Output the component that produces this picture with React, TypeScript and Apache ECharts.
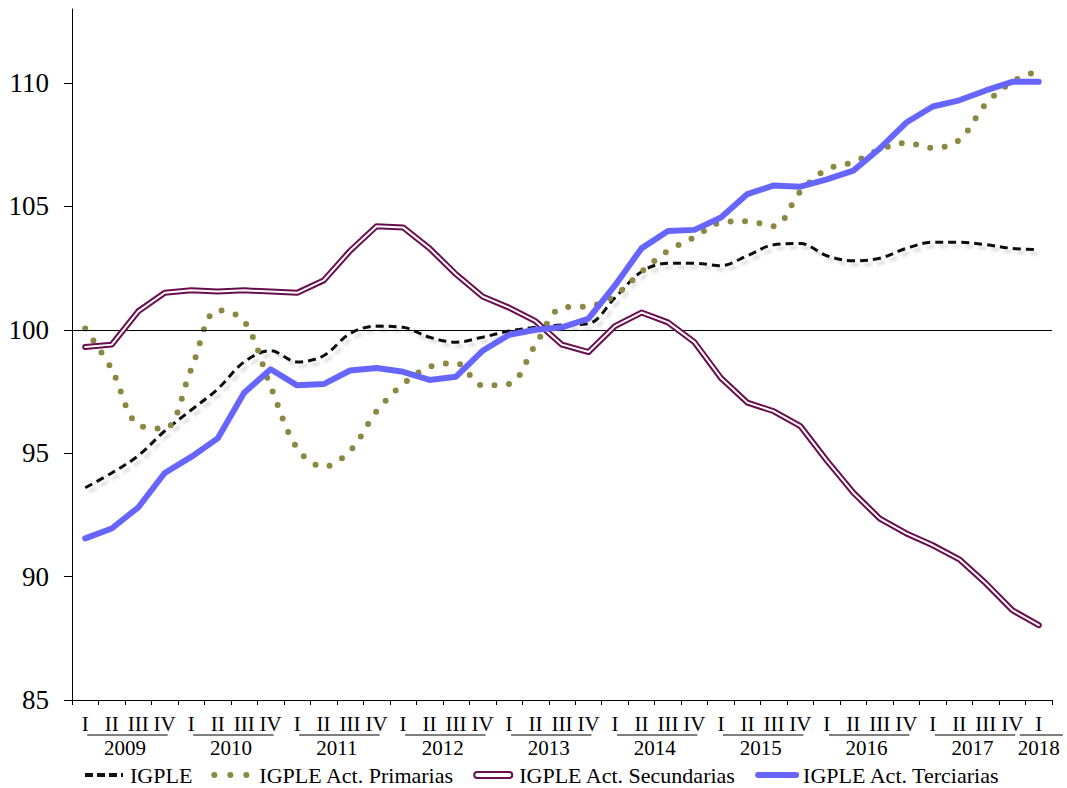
import React, { useEffect, useRef } from "react";
import * as echarts from "echarts";

const years = ["2009", "2010", "2011", "2012", "2013", "2014", "2015", "2016", "2017", "2018"];
const quartersPerYear = [4, 4, 4, 4, 4, 4, 4, 4, 4, 1];
const quarterNames = ["I", "II", "III", "IV"];

const igple = [
  93.6, 94.2, 94.9, 95.9, 96.75, 97.6, 98.7, 99.15, 98.7, 98.95,
  99.85, 100.15, 100.1, 99.7, 99.5, 99.7, 99.95, 100.1, 100.2, 100.25,
  101.3, 102.35, 102.7, 102.7, 102.6, 103.0, 103.45, 103.5, 103.0, 102.8,
  102.9, 103.3, 103.55, 103.55, 103.45, 103.3, 103.25,
];
const primarias = [
  100.05, 98.4, 96.15, 96.0, 98.4, 100.8, 100.35, 97.7, 95.2, 94.45,
  95.1, 96.7, 97.8, 98.5, 98.65, 97.75, 97.8, 99.4, 100.9, 100.95,
  101.4, 102.35, 103.2, 103.75, 104.35, 104.4, 104.2, 105.6, 106.5, 106.8,
  107.3, 107.57, 107.37, 107.7, 109.15, 110.05, 110.5,
];
const secundarias = [
  99.3, 99.4, 100.75, 101.5, 101.6, 101.55, 101.6, 101.55, 101.5, 102.0,
  103.2, 104.2, 104.15, 103.3, 102.25, 101.35, 100.9, 100.35, 99.4, 99.1,
  100.15, 100.7, 100.3, 99.5, 98.05, 97.05, 96.7, 96.1, 94.7, 93.4,
  92.35, 91.75, 91.27, 90.7, 89.73, 88.64, 88.03,
];
const terciarias = [
  91.55, 91.95, 92.8, 94.2, 94.85, 95.6, 97.45, 98.4, 97.75, 97.8,
  98.35, 98.45, 98.3, 97.97, 98.1, 99.15, 99.8, 100.0, 100.1, 100.45,
  101.8, 103.3, 104.0, 104.05, 104.55, 105.5, 105.85, 105.8, 106.1, 106.45,
  107.35, 108.4, 109.05, 109.3, 109.7, 110.05, 110.05,
];
const yTicks = [85, 90, 95, 100, 105, 110];

const categories: string[] = [];
years.forEach((y, k) => {
  for (let q = 0; q < quartersPerYear[k]; q++) categories.push(y + "|" + quarterNames[q]);
});

const FONT = "Liberation Serif";
const PURPLE = "#6A0D4F";
const OLIVE = "#8C8841";
const BLUE = "#6666FF";

export default function App() {
  const ref = useRef<HTMLDivElement>(null);
  useEffect(() => {
    const chart = echarts.init(ref.current!, undefined, { renderer: "svg" });
    chart.setOption({
      animation: false,
      grid: { left: 72, right: 15, top: 9, bottom: 88, containLabel: false },
      xAxis: {
        type: "category",
        data: categories,
        boundaryGap: true,
        axisLine: { lineStyle: { color: "#000", width: 1 } },
        axisTick: { show: true, length: 5, inside: false, lineStyle: { color: "#000" } },
        axisLabel: {
          interval: 0,
          margin: 13,
          fontFamily: FONT,
          fontSize: 21,
          color: "#000",
          formatter: (v: string) => v.split("|")[1],
        },
        splitLine: { show: false },
      },
      yAxis: {
        type: "value",
        min: 85,
        max: 113,
        interval: 5,
        axisLine: { show: true, lineStyle: { color: "#000", width: 1 } },
        axisTick: { show: true, length: 8, lineStyle: { color: "#000" }, customValues: yTicks },
        axisLabel: { fontFamily: FONT, fontSize: 27, color: "#000", margin: 23, customValues: yTicks },
        splitLine: { show: false },
      },
      legend: {
        left: 83,
        top: 764,
        padding: 0,
        itemWidth: 38,
        itemHeight: 14,
        itemGap: 19,
        itemStyle: { opacity: 0 },
        textStyle: { fontFamily: FONT, fontSize: 22, lineHeight: 22, color: "#000", padding: [0, 0, 0, 2] },
        data: [
          { name: "IGPLE", lineStyle: { color: "#111", width: 4, type: [8, 4], cap: "butt" } },
          {
            name: "IGPLE Act. Primarias",
            lineStyle: { color: OLIVE, width: 6, type: [0, 16], cap: "round" },
          },
          {
            name: "IGPLE Act. Secundarias",
            icon: "path://M3,0H35A3,3 0 0 1 35,6H3A3,3 0 0 1 3,0Z",
            itemStyle: { opacity: 1, color: "#fff", borderColor: PURPLE, borderWidth: 2 },
          },
          { name: "IGPLE Act. Terciarias", lineStyle: { color: BLUE, width: 6, cap: "round" } },
        ],
      },
      series: [
        {
          name: "IGPLE",
          type: "line",
          data: igple,
          symbol: "none",
          smooth: 0.35,
          z: 3,
          lineStyle: {
            color: "#111",
            width: 3,
            type: [8, 5],
            shadowColor: "rgba(0,0,0,0.15)",
            shadowBlur: 3,
            shadowOffsetX: 4,
            shadowOffsetY: 4,
          },
          itemStyle: { color: "#111" },
          markLine: {
            silent: true,
            symbol: "none",
            label: { show: false },
            lineStyle: { color: "#000", width: 1.2, type: "solid" },
            data: [{ yAxis: 100 }],
          },
        },
        {
          name: "IGPLE Act. Primarias",
          type: "line",
          data: primarias,
          symbol: "none",
          smooth: 0.35,
          z: 4,
          lineStyle: { color: OLIVE, width: 6, type: [0, 14.5], cap: "round" },
          itemStyle: { color: OLIVE },
        },
        {
          name: "IGPLE Act. Secundarias",
          type: "line",
          data: secundarias,
          symbol: "none",
          z: 5,
          lineStyle: { color: PURPLE, width: 6, join: "round", cap: "round" },
          itemStyle: { color: PURPLE },
        },
        {
          name: "secundarias-inner",
          type: "line",
          data: secundarias,
          symbol: "none",
          z: 6,
          lineStyle: { color: "#fff", width: 2, join: "round", cap: "round" },
          itemStyle: { color: "#fff" },
        },
        {
          name: "IGPLE Act. Terciarias",
          type: "line",
          data: terciarias,
          symbol: "none",
          z: 7,
          lineStyle: { color: BLUE, width: 6, join: "round", cap: "round" },
          itemStyle: { color: BLUE },
        },
      ],
    });

    const gfx: any[] = [];
    let start = 0;
    years.forEach((yr, k) => {
      const s = start;
      const e = start + quartersPerYear[k] - 1;
      start = e + 1;
      const xs = chart.convertToPixel({ xAxisIndex: 0 }, s) as number;
      const xe = chart.convertToPixel({ xAxisIndex: 0 }, e) as number;
      let x0 = xs + 2;
      let x1 = xe + 3;
      if (s === e) {
        x0 = xs - 19;
        x1 = xs + 24;
      }
      gfx.push({
        type: "line",
        shape: { x1: x0, y1: 735, x2: x1, y2: 735 },
        style: { stroke: "#000", lineWidth: 1 },
      });
      gfx.push({
        type: "text",
        x: (xs + xe) / 2,
        y: 748,
        style: {
          text: yr,
          fontFamily: FONT,
          fontSize: 21,
          fill: "#000",
          align: "center",
          verticalAlign: "middle",
        },
      });
    });
    chart.setOption({ graphic: gfx });

    return () => chart.dispose();
  }, []);
  return (
    <div
      ref={ref}
      style={{ position: "absolute", left: 0, top: 0, width: 1067, height: 788 }}
    />
  );
}
